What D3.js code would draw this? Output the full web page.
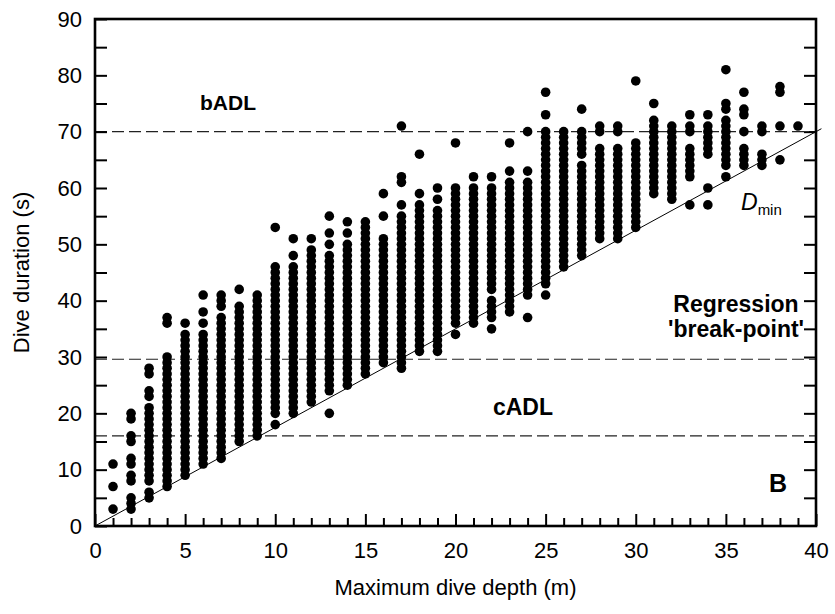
<!DOCTYPE html>
<html>
<head>
<meta charset="utf-8">
<script src="https://cdn.jsdelivr.net/npm/d3@7.9.0/dist/d3.min.js"></script>
<style>
  body { margin: 0; background: #fff; }
  svg { display: block; font-family: "Liberation Sans", Arial, sans-serif; }
</style>
</head>
<body>
<svg id="chart" width="835" height="614"></svg>
<script>
// max dive depth (m), one column of dives per depth
const depths = d3.range(1, 40);

// observed dive durations (s) per depth, as runs [from, to] of whole seconds
const durationRuns = [
  [[3,3],[7,7],[11,11]],
  [[3,5],[8,9],[11,12],[15,16],[19,20]],
  [[5,6],[8,21],[23,24],[27,28]],
  [[7,30],[36,37]],
  [[9,34],[36,36]],
  [[11,34],[36,36],[38,38],[41,41]],
  [[12,37],[39,41]],
  [[15,39],[42,42]],
  [[16,41]],
  [[18,18],[20,46],[53,53]],
  [[20,46],[48,48],[51,51]],
  [[22,49],[51,51]],
  [[20,20],[24,48],[50,50],[52,52],[55,55]],
  [[25,50],[52,52],[54,54]],
  [[27,54]],
  [[29,51],[55,55],[59,59]],
  [[28,55],[57,57],[61,62],[71,71]],
  [[31,57],[59,59],[66,66]],
  [[31,56],[58,58],[60,60]],
  [[34,34],[36,60],[68,68]],
  [[36,60],[62,62]],
  [[35,35],[37,40],[42,60],[62,62]],
  [[38,61],[63,63],[68,68]],
  [[37,37],[41,61],[63,63],[70,70]],
  [[41,41],[43,70],[73,73],[77,77]],
  [[46,70]],
  [[48,64],[66,70],[74,74]],
  [[51,67],[70,71]],
  [[51,67],[70,71]],
  [[53,68],[79,79]],
  [[59,72],[75,75]],
  [[58,71]],
  [[57,57],[62,67],[70,71],[73,73]],
  [[57,57],[60,60],[66,71],[73,73]],
  [[62,62],[64,72],[74,75],[81,81]],
  [[64,67],[70,70],[73,74],[77,77]],
  [[64,66],[70,71]],
  [[65,65],[71,71],[77,78]],
  [[71,71]]
];

// reference lines (s) and the Dmin slope (s per m)
const refLines = [70, 29.6, 16];
const dminSlope = 1.75;

const svg = d3.select("#chart");
const x = d3.scaleLinear().domain([0, 40]).range([95, 816]);
const y = d3.scaleLinear().domain([0, 90]).range([526, 19]);

// flatten runs into dots
const dots = [];
depths.forEach((d, i) => {
  durationRuns[i].forEach(([a, b]) => {
    d3.range(a, b + 1).forEach(s => dots.push({ depth: d, dur: s }));
  });
});

// dashed reference lines
svg.append("g").selectAll("line")
  .data(refLines)
  .join("line")
  .attr("x1", x(0)).attr("x2", x(40))
  .attr("y1", d => y(d)).attr("y2", d => y(d))
  .attr("stroke", "#222")
  .attr("stroke-width", 1.1)
  .attr("stroke-dasharray", "12,5");

// dots
svg.append("g").selectAll("circle")
  .data(dots)
  .join("circle")
  .attr("cx", d => x(d.depth))
  .attr("cy", d => y(d.dur))
  .attr("r", 4.8)
  .attr("fill", "#000");

// Dmin line
svg.append("line")
  .attr("x1", x(0)).attr("y1", y(0))
  .attr("x2", x(40.3)).attr("y2", y(40.3 * dminSlope))
  .attr("stroke", "#000")
  .attr("stroke-width", 1);

// axes
const xMajor = d3.axisBottom(x).tickValues(d3.range(0, 41, 5)).tickSize(-12).tickPadding(16);
const xMinor = d3.axisBottom(x).tickValues(d3.range(0, 41, 1).filter(v => v % 5)).tickSize(-8).tickFormat("");
const yLeft = d3.axisLeft(y).tickValues(d3.range(0, 91, 10)).tickSize(-12).tickPadding(13);
const yLeftMinor = d3.axisLeft(y).tickValues(d3.range(5, 91, 10)).tickSize(-12).tickFormat("");
const yRight = d3.axisRight(y).tickValues(d3.range(5, 90, 5)).tickSize(-12).tickFormat("");

function styleAxis(g) {
  g.select(".domain").remove();
  g.selectAll(".tick line").attr("stroke", "#000").attr("stroke-width", 2);
  g.selectAll(".tick text").attr("fill", "#000").attr("font-size", 22)
    .attr("font-family", "Liberation Sans, Arial, sans-serif");
}

svg.append("g").attr("transform", "translate(0,526)").call(xMajor).call(styleAxis);
svg.append("g").attr("transform", "translate(0,526)").call(xMinor).call(styleAxis);
svg.append("g").attr("transform", "translate(95,0)").call(yLeft).call(styleAxis);
svg.append("g").attr("transform", "translate(95,0)").call(yLeftMinor).call(styleAxis);
svg.append("g").attr("transform", "translate(816,0)").call(yRight).call(styleAxis);

// frame
svg.append("rect")
  .attr("x", 95).attr("y", 19)
  .attr("width", 816 - 95).attr("height", 526 - 19)
  .attr("fill", "none")
  .attr("stroke", "#000")
  .attr("stroke-width", 2.6);

// axis titles
svg.append("text")
  .attr("x", (95 + 816) / 2).attr("y", 595)
  .attr("text-anchor", "middle")
  .attr("font-size", 22)
  .text("Maximum dive depth (m)");

svg.append("text")
  .attr("transform", "translate(29," + (19 + 526) / 2 + ") rotate(-90)")
  .attr("text-anchor", "middle")
  .attr("font-size", 22)
  .text("Dive duration (s)");

// annotations
svg.append("text").attr("x", 228).attr("y", 110)
  .attr("text-anchor", "middle").attr("font-size", 21).attr("font-weight", "bold")
  .text("bADL");

svg.append("text").attr("x", 523).attr("y", 415)
  .attr("text-anchor", "middle").attr("font-size", 23).attr("font-weight", "bold")
  .text("cADL");

svg.append("text").attr("x", 736).attr("y", 312)
  .attr("text-anchor", "middle").attr("font-size", 23).attr("font-weight", "bold")
  .text("Regression");
svg.append("text").attr("x", 736).attr("y", 337)
  .attr("text-anchor", "middle").attr("font-size", 23).attr("font-weight", "bold")
  .text("'break-point'");

svg.append("text").attr("x", 778).attr("y", 492)
  .attr("text-anchor", "middle").attr("font-size", 25).attr("font-weight", "bold")
  .text("B");

const dmin = svg.append("text").attr("x", 741).attr("y", 210).attr("font-size", 23);
dmin.append("tspan").attr("font-style", "italic").text("D");
dmin.append("tspan").attr("font-size", 15).attr("dy", 5).text("min");
</script>
</body>
</html>
